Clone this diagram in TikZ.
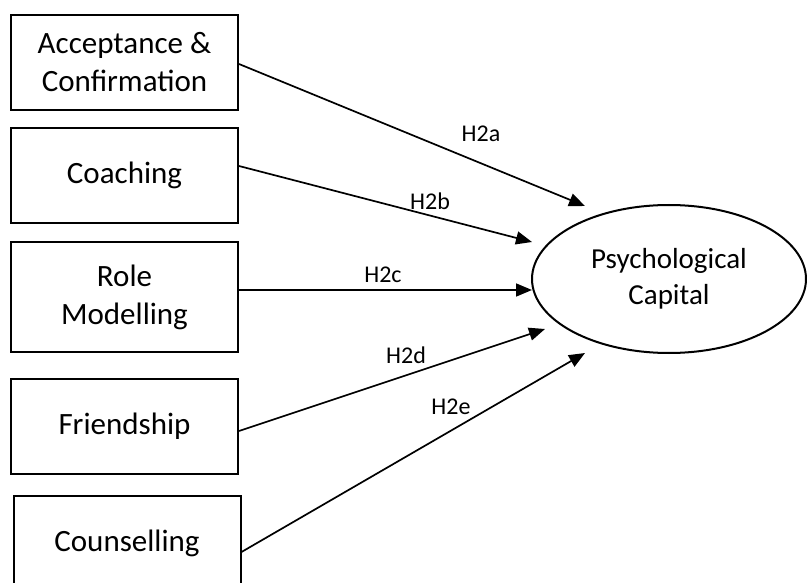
\documentclass[tikz,border=0pt]{standalone}
\usepackage{fontspec}
\setmainfont{Carlito}
\usetikzlibrary{arrows.meta,shapes.geometric}
\begin{document}
\begin{tikzpicture}[x=1pt,y=-1pt,
  factor/.style={draw,line width=2pt,minimum width=227pt,minimum height=95pt,
    align=center,inner sep=0pt,font=\fontsize{31}{38}\selectfont},
  outcome/.style={draw,ellipse,line width=2pt,minimum width=274pt,minimum height=148pt,
    align=center,inner sep=0pt,font=\fontsize{29}{36}\selectfont},
  link/.style={line width=1.7pt,-{Triangle[length=16pt,width=13pt]}},
  hyp/.style={font=\fontsize{24}{26}\selectfont,inner sep=0pt}]
\useasboundingbox (0,0) rectangle (807,583);
\clip (0,0) rectangle (807,583);

% predictor boxes
\node[factor] (acc) at (124.5,62.5) {Acceptance \&\\Confirmation};
\node[factor] (coa) at (124.5,175.5) {Coaching};
\node[factor,minimum height=110pt] (rol) at (124.5,297) {Role\\Modelling};
\node[factor] (fri) at (124.5,426.5) {Friendship};
\node[factor] (cou) at (127,543.5) {Counselling};

% outcome, with its text set a little low
\node[outcome] (psy) at (669,279) {\raisebox{-3pt}{\begin{tabular}{@{}c@{}}Psychological\\Capital\end{tabular}}};

% arrow tips around the outcome
\coordinate (ta) at (585,206);
\coordinate (tb) at (532,242);
\coordinate (tc) at (532,290);
\coordinate (td) at (545,329);
\coordinate (te) at (585,353);

\draw[link] ([yshift=-1.5pt]acc.east) -- (ta);
\draw[link] ([yshift=9.5pt]coa.east) -- (tb);
\draw[link] ([yshift=7pt]rol.east) -- (tc);
\draw[link] ([yshift=-4.5pt]fri.east) -- (td);
\draw[link] ([yshift=-8.5pt]cou.east) -- (te);

% hypothesis labels
\node[hyp] (ha) at (481,134) {H2a};
\node[hyp] (hb) at (430,201) {H2b};
\node[hyp] (hc) at (383,275) {H2c};
\node[hyp] (hd) at (406,355) {H2d};
\node[hyp] (he) at (451,407) {H2e};
\end{tikzpicture}
\end{document}
